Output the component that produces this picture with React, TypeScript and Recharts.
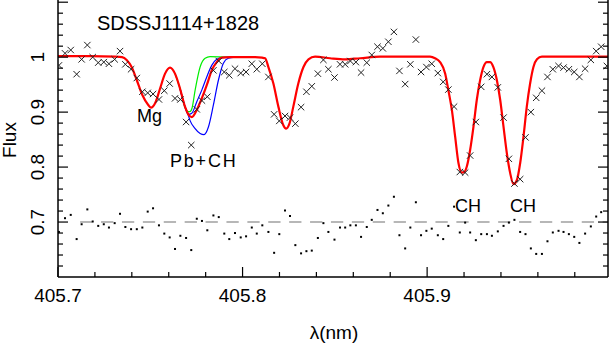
import React from 'react'
import { ComposedChart, Line, Scatter, XAxis, YAxis, ReferenceLine } from 'recharts'

const FONT = '"Liberation Sans", Arial, Helvetica, sans-serif'

// observed spectrum (nm, normalised flux)
const obsWave = [
  405.7005, 405.7038, 405.7069, 405.7101, 405.7128, 405.7159, 405.7188, 405.7218, 405.7248, 405.7276,
  405.7307, 405.7336, 405.7365, 405.7396, 405.7427, 405.7457, 405.7486, 405.7515, 405.7547, 405.7576,
  405.7605, 405.7634, 405.7663, 405.7694, 405.7722, 405.7752, 405.778, 405.7809, 405.7842, 405.7871,
  405.7901, 405.7928, 405.7959, 405.799, 405.8019, 405.805, 405.8077, 405.8107, 405.814, 405.8171,
  405.8199, 405.823, 405.8257, 405.8286, 405.8317, 405.8346, 405.8375, 405.8408, 405.8438, 405.8465,
  405.8498, 405.8528, 405.8556, 405.8584, 405.8614, 405.8642, 405.8673, 405.87, 405.8731, 405.876,
  405.879, 405.882, 405.885, 405.8881, 405.8909, 405.8939, 405.8967, 405.8996, 405.9025, 405.9058,
  405.9087, 405.9115, 405.9146, 405.9177, 405.9206, 405.9233, 405.9264, 405.9293, 405.9324, 405.9351,
  405.9383, 405.9414, 405.9443, 405.9473, 405.9504, 405.9533, 405.9562, 405.9591, 405.9622, 405.9652,
  405.9681, 405.9712, 405.9739, 405.9768, 405.9797, 405.9825, 405.9856, 405.9887, 405.9916, 405.9943,
  405.9974,
]
const obsFlux = [
  0.985, 1.007, 1.013, 0.969, 0.996, 1.022, 1.0, 0.99, 0.991, 0.988,
  0.996, 1.011, 0.987, 0.978, 0.962, 0.937, 0.935, 0.933, 0.923, 0.939,
  0.952, 0.925, 0.923, 0.882, 0.84, 0.905, 0.921, 0.928, 0.976, 0.993,
  0.973, 0.967, 0.979, 0.971, 0.973, 0.988, 0.978, 0.988, 0.964, 0.896,
  0.884, 0.893, 0.89, 0.879, 0.909, 0.937, 0.947, 0.97, 0.995, 0.978,
  0.963, 0.987, 0.987, 0.993, 0.991, 0.972, 0.99, 1.004, 1.019, 1.016,
  1.028, 1.046, 0.975, 0.951, 0.987, 1.032, 0.973, 0.982, 0.988, 0.971,
  0.955, 0.941, 0.91, 0.791, 0.79, 0.821, 0.882, 0.946, 0.969, 0.964,
  0.945, 0.89, 0.815, 0.77, 0.778, 0.854, 0.9, 0.926, 0.939, 0.964,
  0.978, 0.984, 0.981, 0.978, 0.973, 0.964, 0.979, 0.995, 1.011, 1.019,
  0.984,
]
// residuals, plotted around 0.7
const residFlux = [
  0.682, 0.707, 0.713, 0.669, 0.696, 0.723, 0.701, 0.693, 0.696, 0.69,
  0.698, 0.715, 0.691, 0.687, 0.687, 0.69, 0.719, 0.725, 0.694, 0.679,
  0.672, 0.651, 0.675, 0.671, 0.649, 0.706, 0.702, 0.685, 0.712, 0.709,
  0.679, 0.669, 0.68, 0.672, 0.674, 0.69, 0.679, 0.694, 0.682, 0.644,
  0.678, 0.721, 0.711, 0.658, 0.643, 0.647, 0.648, 0.671, 0.698, 0.682,
  0.668, 0.69, 0.69, 0.694, 0.694, 0.673, 0.691, 0.704, 0.722, 0.716,
  0.73, 0.746, 0.676, 0.652, 0.69, 0.736, 0.676, 0.684, 0.688, 0.676,
  0.669, 0.693, 0.728, 0.681, 0.699, 0.681, 0.667, 0.678, 0.678, 0.675,
  0.683, 0.693, 0.699, 0.704, 0.682, 0.678, 0.652, 0.642, 0.642, 0.665,
  0.681, 0.684, 0.682, 0.678, 0.673, 0.662, 0.679, 0.692, 0.71, 0.718,
  null,
]

// best fit synthetic spectrum (red)
const fitWave = [
  405.7, 405.7173, 405.7309, 405.7347, 405.7372, 405.7399, 405.7427, 405.7457, 405.7489, 405.7504,
  405.7526, 405.7553, 405.758, 405.7607, 405.7634, 405.7661, 405.7688, 405.7706, 405.7725, 405.7752,
  405.7779, 405.7806, 405.7833, 405.786, 405.7887, 405.7932, 405.8068, 405.8106, 405.8122, 405.814,
  405.8167, 405.8194, 405.8221, 405.8236, 405.8254, 405.8275, 405.8302, 405.833, 405.8357, 405.8393,
  405.8474, 405.8556, 405.8637, 405.8745, 405.8908, 405.9016, 405.9043, 405.907, 405.9098, 405.9115,
  405.9134, 405.9152, 405.917, 405.9188, 405.9201, 405.9215, 405.9233, 405.9251, 405.9269, 405.9287,
  405.9305, 405.9324, 405.9341, 405.9359, 405.9378, 405.9396, 405.9414, 405.9432, 405.945, 405.9468,
  405.9486, 405.9504, 405.9522, 405.954, 405.9558, 405.9576, 405.9595, 405.9622, 405.9775, 405.9981,
]
const fitFlux = [
  1.002, 1.002, 1.001, 1.0, 0.995, 0.982, 0.958, 0.931, 0.913, 0.908,
  0.916, 0.943, 0.97, 0.981, 0.97, 0.943, 0.91, 0.896, 0.891, 0.904,
  0.925, 0.949, 0.976, 0.991, 0.999, 1.0, 1.0, 0.999, 0.998, 0.982,
  0.952, 0.91, 0.876, 0.87, 0.879, 0.91, 0.952, 0.982, 0.996, 1.001,
  0.998, 0.996, 0.998, 1.001, 1.001, 1.001, 0.998, 0.991, 0.97, 0.94,
  0.904, 0.855, 0.807, 0.79, 0.791, 0.801, 0.831, 0.873, 0.922, 0.958,
  0.982, 0.991, 0.991, 0.982, 0.958, 0.922, 0.873, 0.825, 0.789, 0.769,
  0.776, 0.807, 0.855, 0.91, 0.952, 0.982, 0.996, 1.001, 1.001, 1.001,
]

// no Pb (green)
const noPbWave = [405.7634, 405.7661, 405.7688, 405.7706, 405.7715, 405.7726, 405.7743, 405.777, 405.7797, 405.7824, 405.7932]
const noPbFlux = [0.97, 0.943, 0.908, 0.901, 0.901, 0.907, 0.94, 0.982, 0.998, 1.001, 1.0]

// lower Pb (blue)
const lowPbWave = [405.7661, 405.7688, 405.7706, 405.7725, 405.7752, 405.7779, 405.7806, 405.7833, 405.786, 405.7887, 405.7932]
const lowPbFlux = [0.943, 0.91, 0.896, 0.898, 0.919, 0.94, 0.964, 0.985, 0.996, 0.999, 1.0]

// higher Pb (blue)
const highPbWave = [405.7661, 405.7688, 405.7706, 405.7715, 405.7743, 405.777, 405.7791, 405.7815, 405.7842, 405.7869, 405.7896, 405.7923, 405.7959]
const highPbFlux = [0.943, 0.91, 0.894, 0.885, 0.87, 0.861, 0.859, 0.873, 0.913, 0.958, 0.989, 0.998, 1.0]

// dashed zero level of the residuals
const residLevel = 0.7
const residStart = 405.712

const xTicks = [405.7, 405.72, 405.74, 405.76, 405.78, 405.8, 405.82, 405.84, 405.86, 405.88, 405.9, 405.92, 405.94, 405.96, 405.98]
const yTicks = [
  0.62, 0.64, 0.66, 0.68, 0.7, 0.72, 0.74, 0.76, 0.78, 0.8, 0.82, 0.84, 0.86,
  0.88, 0.9, 0.92, 0.94, 0.96, 0.98, 1, 1.02, 1.04, 1.06, 1.08, 1.1,
]
const xMax = 405.998

const W = 611
const H = 346
const LEFT = 58
const RIGHT = 608
const TOP = 0
const BOTTOM = 277

const isMajor = (v: number) => Math.abs(v * 10 - Math.round(v * 10)) < 1e-6

const toPts = (xs: number[], ys: (number | null)[]) =>
  xs.map((x, i) => ({ x, y: ys[i] })).filter((p) => p.y !== null)

const BottomTick = (p: any) => {
  const v = p.payload.value
  const m = isMajor(v)
  return (
    <g>
      <line x1={p.x} x2={p.x} y1={BOTTOM} y2={BOTTOM - (m ? 10 : 5)} stroke="#000" strokeWidth={1.2} />
      {m && (
        <text x={p.x} y={BOTTOM + 25} textAnchor="middle" fontSize={19} fontFamily={FONT} fill="#000">
          {v.toFixed(1)}
        </text>
      )}
    </g>
  )
}

const TopTick = (p: any) => {
  const m = isMajor(p.payload.value)
  return <line x1={p.x} x2={p.x} y1={TOP} y2={TOP + (m ? 10 : 5)} stroke="#000" strokeWidth={1.2} />
}

const LeftTick = (p: any) => {
  const v = p.payload.value
  const m = isMajor(v)
  const lx = 44
  return (
    <g>
      <line x1={LEFT} x2={LEFT + (m ? 10 : 5)} y1={p.y} y2={p.y} stroke="#000" strokeWidth={1.2} />
      {m && v < 1.05 && (
        <text
          x={lx}
          y={p.y}
          transform={`rotate(-90, ${lx}, ${p.y})`}
          textAnchor="middle"
          fontSize={19}
          fontFamily={FONT}
          fill="#000"
        >
          {String(Math.round(v * 10) / 10)}
        </text>
      )}
    </g>
  )
}

const RightTick = (p: any) => {
  const m = isMajor(p.payload.value)
  return <line x1={RIGHT} x2={RIGHT - (m ? 10 : 5)} y1={p.y} y2={p.y} stroke="#000" strokeWidth={1.2} />
}

const Cross = (p: any) => {
  const { cx, cy } = p
  if (cx == null || cy == null) return <g />
  const r = 3.2
  return (
    <g stroke="#222" strokeWidth={1}>
      <line x1={cx - r} y1={cy - r} x2={cx + r} y2={cy + r} />
      <line x1={cx - r} y1={cy + r} x2={cx + r} y2={cy - r} />
    </g>
  )
}

const Dot = (p: any) => {
  if (p.cx == null || p.cy == null) return <g />
  return <rect x={p.cx - 1} y={p.cy - 1} width={2} height={2} fill="#000" />
}

export default function App() {
  const obs = toPts(obsWave, obsFlux)
  const resid = toPts(obsWave, residFlux)
  const fit = toPts(fitWave, fitFlux)
  const noPb = toPts(noPbWave, noPbFlux)
  const lowPb = toPts(lowPbWave, lowPbFlux)
  const highPb = toPts(highPbWave, highPbFlux)

  const txt = { fontFamily: FONT, fill: '#000' }

  return (
    <div style={{ position: 'absolute', left: 0, top: 0, width: W, height: H, background: '#fff' }}>
      <ComposedChart width={W} height={H} margin={{ top: 0, right: 0, bottom: 0, left: 0 }}>
        <XAxis
          xAxisId="b"
          dataKey="x"
          type="number"
          domain={[405.7, xMax]}
          allowDataOverflow
          ticks={xTicks}
          interval={0}
          height={H - BOTTOM}
          tickSize={0}
          tickMargin={0}
          tickLine={false}
          axisLine={{ stroke: '#000', strokeWidth: 1.5 }}
          tick={<BottomTick />}
        />
        <XAxis
          xAxisId="t"
          orientation="top"
          dataKey="x"
          type="number"
          domain={[405.7, xMax]}
          allowDataOverflow
          ticks={xTicks}
          interval={0}
          height={0}
          tickSize={0}
          tickMargin={0}
          tickLine={false}
          axisLine={{ stroke: '#000', strokeWidth: 1.5 }}
          tick={<TopTick />}
        />
        <YAxis
          yAxisId="l"
          dataKey="y"
          type="number"
          domain={[0.6, 1.104]}
          allowDataOverflow
          ticks={yTicks}
          interval={0}
          width={LEFT}
          tickSize={0}
          tickMargin={0}
          tickLine={false}
          axisLine={{ stroke: '#000', strokeWidth: 1.5 }}
          tick={<LeftTick />}
        />
        <YAxis
          yAxisId="r"
          orientation="right"
          dataKey="y"
          type="number"
          domain={[0.6, 1.104]}
          allowDataOverflow
          ticks={yTicks}
          interval={0}
          width={W - RIGHT}
          tickSize={0}
          tickMargin={0}
          tickLine={false}
          axisLine={{ stroke: '#000', strokeWidth: 1.5 }}
          tick={<RightTick />}
        />
        <ReferenceLine
          xAxisId="b"
          yAxisId="l"
          segment={[{ x: residStart, y: residLevel }, { x: xMax, y: residLevel }]}
          stroke="#a0a0a0"
          strokeWidth={1.5}
          strokeDasharray="12.3 8.6"
        />
        <Scatter xAxisId="b" yAxisId="l" data={obs} shape={<Cross />} isAnimationActive={false} />
        <Scatter xAxisId="b" yAxisId="l" data={resid} shape={<Dot />} isAnimationActive={false} />
        <Line xAxisId="b" yAxisId="l" data={noPb} dataKey="y" type="monotone" stroke="#00ee00" strokeWidth={1.2} dot={false} isAnimationActive={false} />
        <Line xAxisId="b" yAxisId="l" data={lowPb} dataKey="y" type="monotone" stroke="#0000ff" strokeWidth={1.2} dot={false} isAnimationActive={false} />
        <Line xAxisId="b" yAxisId="l" data={highPb} dataKey="y" type="monotone" stroke="#0000ff" strokeWidth={1.2} dot={false} isAnimationActive={false} />
        <Line xAxisId="b" yAxisId="l" data={fit} dataKey="y" type="monotone" stroke="#ff0000" strokeWidth={2.2} dot={false} isAnimationActive={false} />
      </ComposedChart>
      <svg width={W} height={H} style={{ position: 'absolute', left: 0, top: 0, pointerEvents: 'none' }}>
        <text x={97} y={30} fontSize={20} {...txt}>SDSSJ1114+1828</text>
        <text x={137} y={122} fontSize={18} {...txt}>Mg</text>
        <text x={170} y={167} fontSize={18} letterSpacing={1.8} {...txt}>Pb+CH</text>
        <text x={455} y={212} fontSize={18} {...txt}>CH</text>
        <text x={510} y={212} fontSize={18} {...txt}>CH</text>
        <text x={16} y={140} transform="rotate(-90, 16, 140)" textAnchor="middle" fontSize={19} {...txt}>Flux</text>
        <text x={334} y={339} textAnchor="middle" fontSize={19} {...txt}>λ(nm)</text>
      </svg>
    </div>
  )
}
